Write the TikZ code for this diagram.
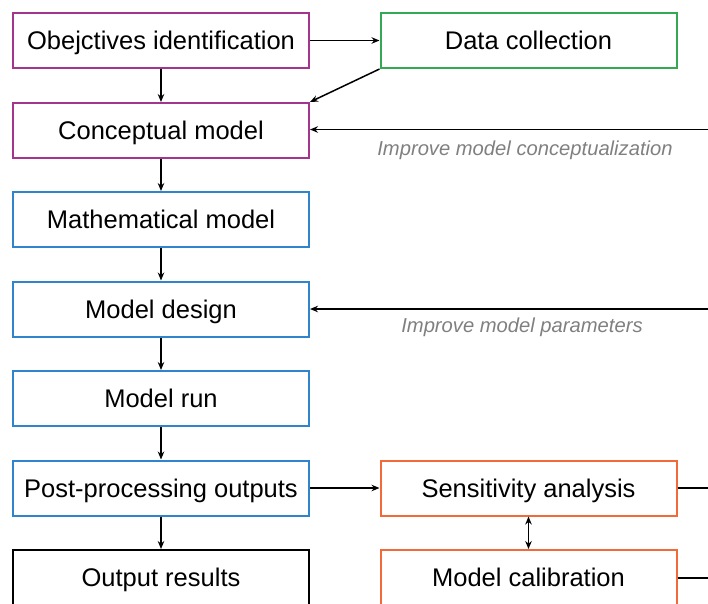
\documentclass[tikz,border=0pt]{standalone}
\usepackage{fontspec}
\setmainfont{Liberation Sans}
\usetikzlibrary{arrows.meta}
\definecolor{boxpurple}{HTML}{A3358F}
\definecolor{boxgreen}{HTML}{35A853}
\definecolor{boxblue}{HTML}{2F84CC}
\definecolor{boxorange}{HTML}{F2693A}
\definecolor{notegray}{HTML}{808080}
\begin{document}
\begin{tikzpicture}[x=1pt,y=-1pt,
    stagebox/.style={draw,line width=2pt,minimum width=296pt,minimum height=55pt,
      inner sep=0pt,text height=18.3pt,text depth=0pt,font=\fontsize{25.5}{30}\selectfont},
    note/.style={text=notegray,inner sep=0pt,text height=14.5pt,text depth=0pt,
      font=\fontsize{20.2}{24}\selectfont\itshape},
    flow/.style={-{Stealth[length=8pt,width=6.5pt]},line width=1.5pt},
    link/.style={line width=1.5pt}]
   \useasboundingbox (0,0) rectangle (708,603);
   \clip (0,0) rectangle (708,603);
   \node[stagebox,draw=boxpurple] (obj) at (161,40.5) {Obejctives identification};
   \node[stagebox,draw=boxgreen] (data) at (528.5,40.5) {Data collection};
   \node[stagebox,draw=boxpurple] (concept) at (161,130.5) {Conceptual model};
   \node[stagebox,draw=boxblue] (math) at (161,219.5) {Mathematical model};
   \node[stagebox,draw=boxblue] (design) at (161,309) {Model design};
   \node[stagebox,draw=boxblue] (run) at (161,398.5) {Model run};
   \node[stagebox,draw=boxblue] (post) at (161,488) {Post-processing outputs};
   \node[stagebox,draw=black] (out) at (161,577.5) {Output results};
   \node[stagebox,draw=boxorange] (sens) at (528.5,488) {Sensitivity analysis};
   \node[stagebox,draw=boxorange] (calib) at (528.5,577.5) {Model calibration};
   \node[note] (conclabel) at (525,148) {Improve model conceptualization};
   \node[note] (parlabel) at (522,325) {Improve model parameters};
   \coordinate (concin) at (708,129.5);
   \coordinate (desin) at (708,309);
   \coordinate (sensout) at (708,488);
   \coordinate (calout) at (708,578);
   \draw[flow] (obj) -- (data);
   \draw[flow] (data.south west) -- (concept.north east);
   \draw[flow] (obj) -- (concept);
   \draw[flow] (concept) -- (math);
   \draw[flow] (math) -- (design);
   \draw[flow] (design) -- (run);
   \draw[flow] (run) -- (post);
   \draw[flow] (post) -- (out);
   \draw[flow] (post) -- (sens);
   \draw[line width=1.5pt,{Stealth[length=8pt,width=6.5pt]}-{Stealth[length=8pt,width=6.5pt]}] (sens) -- (calib);
   \draw[flow] (concin) -- (concept.east |- concin);
   \draw[flow] (desin) -- (design.east |- desin);
   \draw[link] (sens.east) -- (sensout);
   \draw[link] (calib.east |- calout) -- (calout);
\end{tikzpicture}
\end{document}
